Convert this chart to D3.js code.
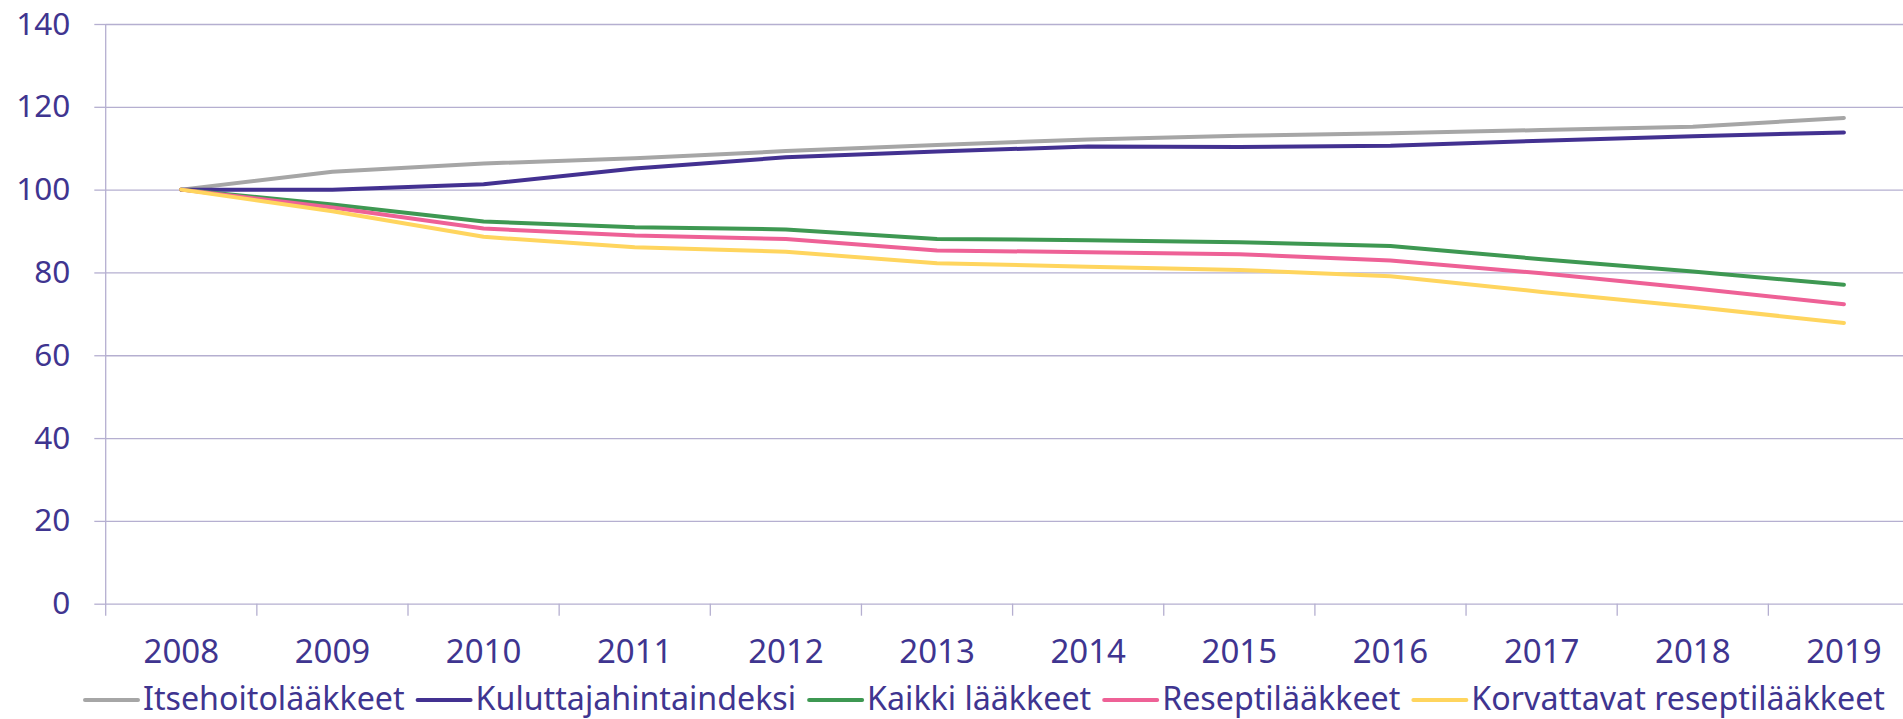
<!DOCTYPE html>
<html>
<head>
<meta charset="utf-8">
<script src="https://cdn.jsdelivr.net/npm/d3@7"></script>
<style>
    body { margin: 0; background: #ffffff; }
    svg { display: block; }
</style>
</head>
<body>
<svg id="chart" width="1903" height="719"></svg>
<script>
const years = ["2008", "2009", "2010", "2011", "2012", "2013", "2014", "2015", "2016", "2017", "2018", "2019"];
const yTicks = [0, 20, 40, 60, 80, 100, 120, 140];

const itsehoito = [100, 104.3, 106.3, 107.6, 109.3, 110.8, 112.1, 113.0, 113.6, 114.4, 115.2, 117.3];
const kuluttaja = [100, 100.0, 101.3, 105.1, 107.8, 109.2, 110.4, 110.3, 110.6, 111.8, 112.9, 113.8];
const kaikki = [100, 96.4, 92.3, 90.9, 90.4, 88.1, 87.8, 87.3, 86.4, 83.2, 80.2, 77.0];
const resepti = [100, 95.7, 90.6, 88.9, 88.1, 85.3, 84.9, 84.4, 82.9, 79.8, 76.2, 72.3];
const korvattavat = [100, 94.8, 88.6, 86.1, 85.0, 82.2, 81.4, 80.6, 79.1, 75.3, 71.7, 67.8];

const seriesNames = ["Itsehoitolääkkeet", "Kuluttajahintaindeksi", "Kaikki lääkkeet", "Reseptilääkkeet", "Korvattavat reseptilääkkeet"];
const seriesValues = [itsehoito, kuluttaja, kaikki, resepti, korvattavat];
const seriesColors = ["#a6a6a6", "#433191", "#3e9852", "#ee6196", "#ffd55e"];

const textColor = "#3f3590";
const gridColor = "#b5afd0";

const svg = d3.select("#chart");
const margens = { left: 105.7, top: 24, bottom: 603.7 };
const bandW = 151.15;

const series = seriesNames.map((name, i) => ({
    name: name,
    color: seriesColors[i],
    values: years.map((year, j) => ({ year: year, value: seriesValues[i][j] }))
}));

// Scales
const x = d3.scaleBand()
    .domain(years)
    .range([margens.left, margens.left + bandW * years.length])
    .padding(0);

const y = d3.scaleLinear()
    .domain([0, 140])
    .range([margens.bottom, margens.top]);

// Gridlines
svg.append("g")
    .attr("transform", `translate(${margens.left}, 0)`)
    .call(d3.axisLeft(y).tickValues(yTicks).tickSize(-(x.range()[1] - margens.left)).tickFormat(""))
    .call(g => g.select(".domain").remove())
    .call(g => g.selectAll("line").attr("stroke", gridColor).attr("stroke-width", 1.3));

// Y axis with labels
svg.append("g")
    .attr("transform", `translate(${margens.left}, 0)`)
    .call(d3.axisLeft(y).tickValues(yTicks).tickSizeInner(11.4).tickSizeOuter(0).tickPadding(24))
    .call(g => g.select(".domain").remove())
    .call(g => g.selectAll("line").attr("stroke", gridColor).attr("stroke-width", 1.3))
    .call(g => g.selectAll("text")
        .attr("fill", textColor)
        .attr("font-family", "'Noto Sans', 'Open Sans', sans-serif")
        .attr("font-size", "31.5px"));

// Y axis vertical line
svg.append("line")
    .attr("x1", margens.left)
    .attr("x2", margens.left)
    .attr("y1", y(140))
    .attr("y2", y(0) + 12)
    .attr("stroke", gridColor)
    .attr("stroke-width", 1.3);

// X axis tick marks at the category boundaries
svg.append("g")
    .selectAll("line")
    .data(years.slice(1))
    .join("line")
    .attr("x1", d => x(d))
    .attr("x2", d => x(d))
    .attr("y1", y(0))
    .attr("y2", y(0) + 12)
    .attr("stroke", gridColor)
    .attr("stroke-width", 1.3);

// X axis labels
svg.append("g")
    .attr("transform", `translate(0, ${y(0)})`)
    .call(d3.axisBottom(x).tickSize(0).tickPadding(0))
    .call(g => g.select(".domain").remove())
    .call(g => g.selectAll("text")
        .attr("y", 59)
        .attr("dy", null)
        .attr("fill", textColor)
        .attr("font-family", "'Noto Sans', 'Open Sans', sans-serif")
        .attr("font-size", "33px"));

// Lines
const line = d3.line()
    .x(d => x(d.year) + x.bandwidth() / 2)
    .y(d => y(d.value));

svg.append("g")
    .selectAll("path")
    .data(series)
    .join("path")
    .attr("fill", "none")
    .attr("stroke", d => d.color)
    .attr("stroke-width", 4)
    .attr("stroke-linejoin", "round")
    .attr("stroke-linecap", "round")
    .attr("d", d => line(d.values));

// Legend
const legend = svg.append("g")
    .attr("transform", "translate(85, 700)");

let legendX = 0;
series.forEach(s => {
    const item = legend.append("g").attr("transform", `translate(${legendX}, 0)`);
    item.append("line")
        .attr("x1", 0)
        .attr("x2", 53)
        .attr("y1", 0)
        .attr("y2", 0)
        .attr("stroke", s.color)
        .attr("stroke-width", 4)
        .attr("stroke-linecap", "round");
    const label = item.append("text")
        .attr("x", 58)
        .attr("y", 10)
        .attr("fill", textColor)
        .attr("font-family", "'Noto Sans', 'Open Sans', sans-serif")
        .attr("font-size", "32.2px")
        .text(s.name);
    legendX += 58 + label.node().getComputedTextLength() + 13;
});
</script>
</body>
</html>
